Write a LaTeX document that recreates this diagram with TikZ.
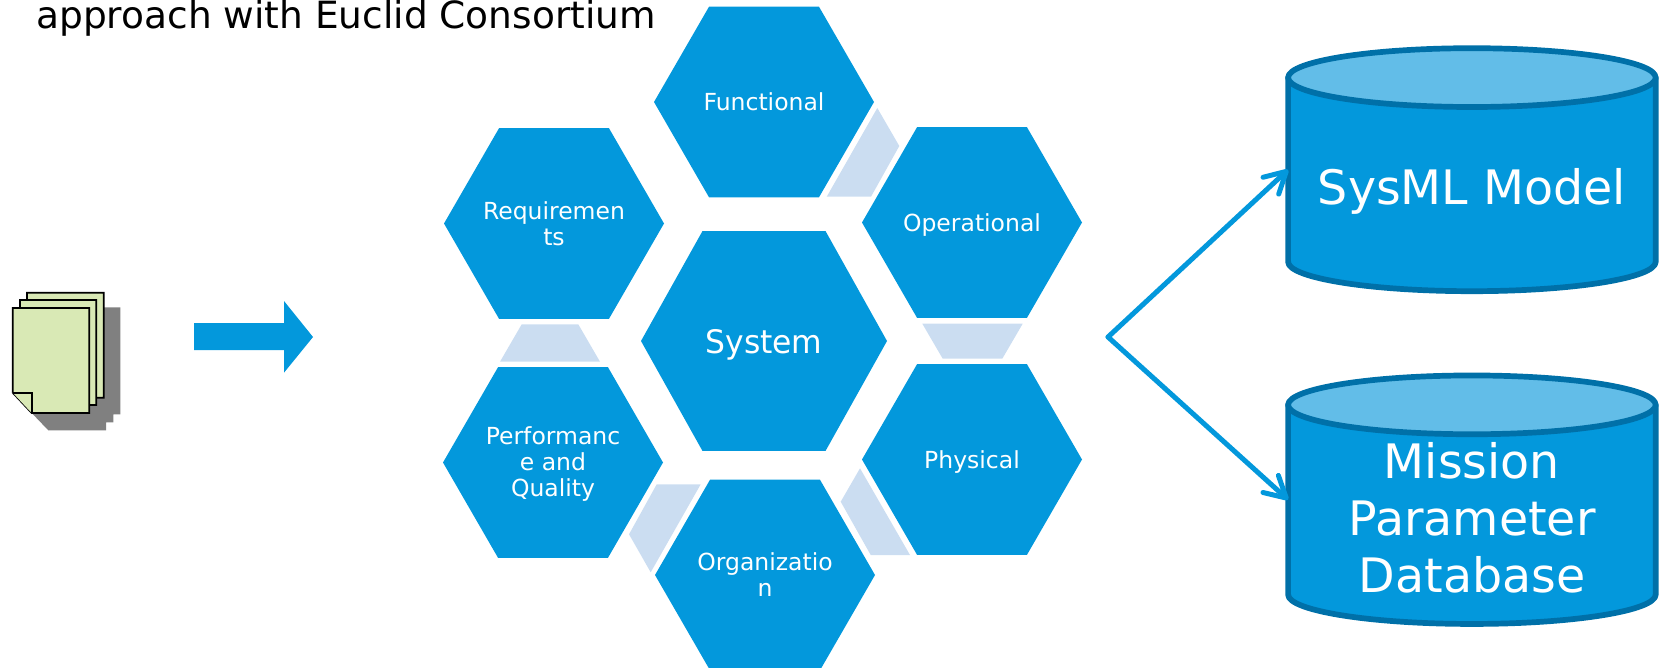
\documentclass[tikz,border=0pt]{standalone}
\usepackage{fontspec}
\setmainfont{DejaVu Sans}
\usepackage{tikz}
\usetikzlibrary{shapes.geometric}
\usetikzlibrary{arrows.meta}

\definecolor{hexblue}{HTML}{0398DC}
\definecolor{hexpale}{HTML}{CBDDF1}
\definecolor{cyltop}{HTML}{62BDE8}
\definecolor{cylline}{HTML}{0070A8}
\definecolor{pagegreen}{HTML}{D9E9B5}

\tikzset{
	hexsmall/.style={regular polygon,regular polygon sides=6,minimum size=220pt,inner ysep=0pt,inner xsep=-40pt,outer sep=0pt,fill=hexblue,text=white,align=center,font=\fontsize{23.5}{26}\selectfont},
	oneline/.style={text height=17.5pt,text depth=0pt},
	hexbig/.style={hexsmall,oneline,text height=24pt,minimum size=254pt,transform shape,xscale=.9685,font=\fontsize{32.4}{36}\selectfont},
	hexlink/.style={fill=hexpale},
	dbase/.style={rectangle,minimum width=367.6pt,minimum height=243pt,inner sep=0pt,outer sep=0pt},
	dbline/.style={draw=cylline,line width=5.7pt,line join=round},
	dblabel/.style={text=white,align=center,inner sep=0pt,font=\fontsize{47.5}{57}\selectfont},
	fork/.style={draw=hexblue,line width=5pt,line cap=round,-{Straight Barb[length=21pt,width=23pt,round]}},
	page/.style={draw=black,line width=1.7pt,fill=pagegreen},
}

\newcommand{\dbdrum}[1]{
	\draw[dbline,fill=hexblue] ([yshift=-29.4pt]#1.north west) -- ([yshift=29.4pt]#1.south west) arc[start angle=180,end angle=360,x radius=183.8pt,y radius=29.4pt] -- ([yshift=-29.4pt]#1.north east) -- cycle;
	\draw[dbline,fill=cyltop] ([yshift=-29.4pt]#1.north) ellipse [x radius=183.8pt,y radius=29.4pt];
}

\begin{document}
\begin{tikzpicture}[x=1pt,y=-1pt]
	\useasboundingbox (0,0) rectangle (1660,667);

	\node (title) [anchor=base west,inner sep=0pt,font=\fontsize{37.5}{40}\selectfont] at (36,28) {approach with Euclid Consortium};

	% documents
	\fill[black!50] (103.7,307.3) -- (120.3,307.3) -- (120.3,414.3) -- (113.3,414.3) -- (113.3,422.3) -- (106,422.3) -- (106,430.3) -- (48.3,430.3) -- (31.7,413) -- cycle;
	\draw[page] (27,310) -- (27,292.7) -- (103.7,292.7) -- (103.7,397.7) -- (85,397.7) -- cycle;
	\draw[page] (20,315) -- (20,300) -- (96.3,300) -- (96.3,405) -- (85,405) -- cycle;
	\draw[page] (12.7,308) -- (89.3,308) -- (89.3,413) -- (31.7,413) -- (12.7,392.7) -- cycle;
	\draw[page] (12.7,392.7) -- (31.7,392.7) -- (31.7,413);

	% block arrow
	\fill[hexblue] (194,323) -- (284,323) -- (284,301) -- (313,337) -- (284,372.7) -- (284,350) -- (194,350) -- cycle;

	% hexagons
	\node (system) [hexbig] at (764,341) {System};
	\node (functional) [hexsmall,oneline] at (764,102) {Functional};
	\node (operational) [hexsmall,oneline] at (972,222.5) {Operational};
	\node (physical) [hexsmall,oneline] at (972,459.5) {Physical};
	\node (organization) [hexsmall] at (765,575) {Organizatio\\n};
	\node (performance) [hexsmall] at (553,462.5) {\rule{0pt}{21pt}Performanc\\e and\\Quality};
	\node (requirements) [hexsmall] at (554,223.5) {Requiremen\\ts};

	% between the hexagons
	\fill[hexlink] (877.3,108) -- (899.3,146) -- (871,196.7) -- (826.7,196.7) -- cycle;
	\fill[hexlink] (922.3,323.7) -- (1022.7,323.7) -- (1002.3,358.7) -- (942.7,358.7) -- cycle;
	\fill[hexlink] (860,468.3) -- (910,555) -- (870.7,555) -- (840.7,501.7) -- cycle;
	\fill[hexlink] (656.7,484.3) -- (700.7,484.3) -- (650.7,572.3) -- (629,534.3) -- cycle;
	\fill[hexlink] (521.7,324.3) -- (578.3,324.3) -- (600,361.7) -- (500,361.7) -- cycle;

	% databases
	\node (sysml) [dbase] at (1471.9,169.7) {};
	\node (mpdb) [dbase,minimum height=248.5pt] at (1471.9,499.7) {};
	\dbdrum{sysml}
	\dbdrum{mpdb}
	\node (sysmllabel) [dblabel] at (1472,191) {SysML Model};
	\node (mpdblabel) [dblabel] at (1472,518) {Mission\\Parameter\\Database};

	\coordinate (split) at (1108,337);
	\draw[fork] (split) -- (sysml.west);
	\draw[fork] (split) -- (mpdb.west);
\end{tikzpicture}
\end{document}
